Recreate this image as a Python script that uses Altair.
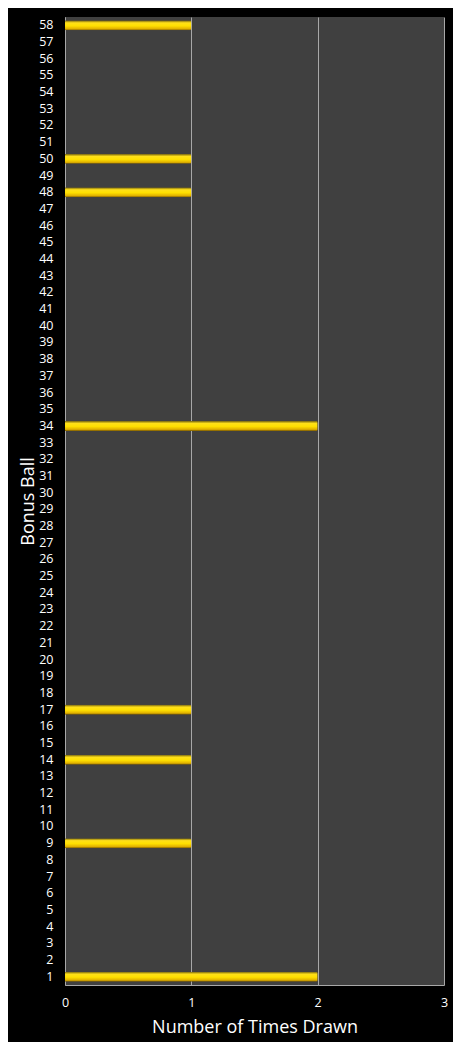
import altair as alt
import pandas as pd

# bonus balls that were drawn, and how often
drawn_balls = [1, 9, 14, 17, 34, 48, 50, 58]
drawn_counts = [2, 1, 1, 1, 2, 1, 1, 1]

balls = list(range(1, 59))
counts = [drawn_counts[drawn_balls.index(b)] if b in drawn_balls else 0 for b in balls]
x_ticks = [0, 1, 2, 3]

data = pd.DataFrame({'ball': balls, 'times': counts})

gold = alt.Gradient(
    gradient='linear', x1=0, x2=0, y1=0, y2=1,
    stops=[alt.GradientStop(offset=0, color='#6b5a10'),
           alt.GradientStop(offset=0.25, color='#ffe01a'),
           alt.GradientStop(offset=0.55, color='#ffe000'),
           alt.GradientStop(offset=0.85, color='#e0b000'),
           alt.GradientStop(offset=1, color='#7a5a00')])

chart = (alt.Chart(data).mark_bar(fill=gold, cornerRadiusEnd=1.5)
         .encode(x=alt.X('times:Q', title='Number of Times Drawn',
                         scale=alt.Scale(domain=[0, 3], nice=False),
                         axis=alt.Axis(values=x_ticks, format='d', ticks=False,
                                       labelFlush=False, labelPadding=11, titlePadding=10,
                                       gridColor='#a8a8a8', domainColor='#a8a8a8')),
                 y=alt.Y('ball:O', title='Bonus Ball', sort='descending',
                         scale=alt.Scale(paddingInner=0.4),
                         axis=alt.Axis(ticks=False, labelPadding=12, titlePadding=1,
                                       labelAngle=0, domainColor='#a8a8a8')))
         .properties(width=379, height=968,
                     autosize=alt.AutoSizeParams(type='none'),
                     padding={'left': 57, 'top': 9, 'right': 9, 'bottom': 57},
                     background='black')
         .configure_view(fill='#404040', stroke=None)
         .configure_axis(labelColor='white', titleColor='white', labelFont='Open Sans',
                         titleFont='Open Sans', labelFontSize=12.5, titleFontSize=18,
                         titleFontWeight='normal', grid=False)
         .configure_axisX(grid=True)
        )

chart.save("out.html", embed_options={"renderer": "svg", "actions": False})
